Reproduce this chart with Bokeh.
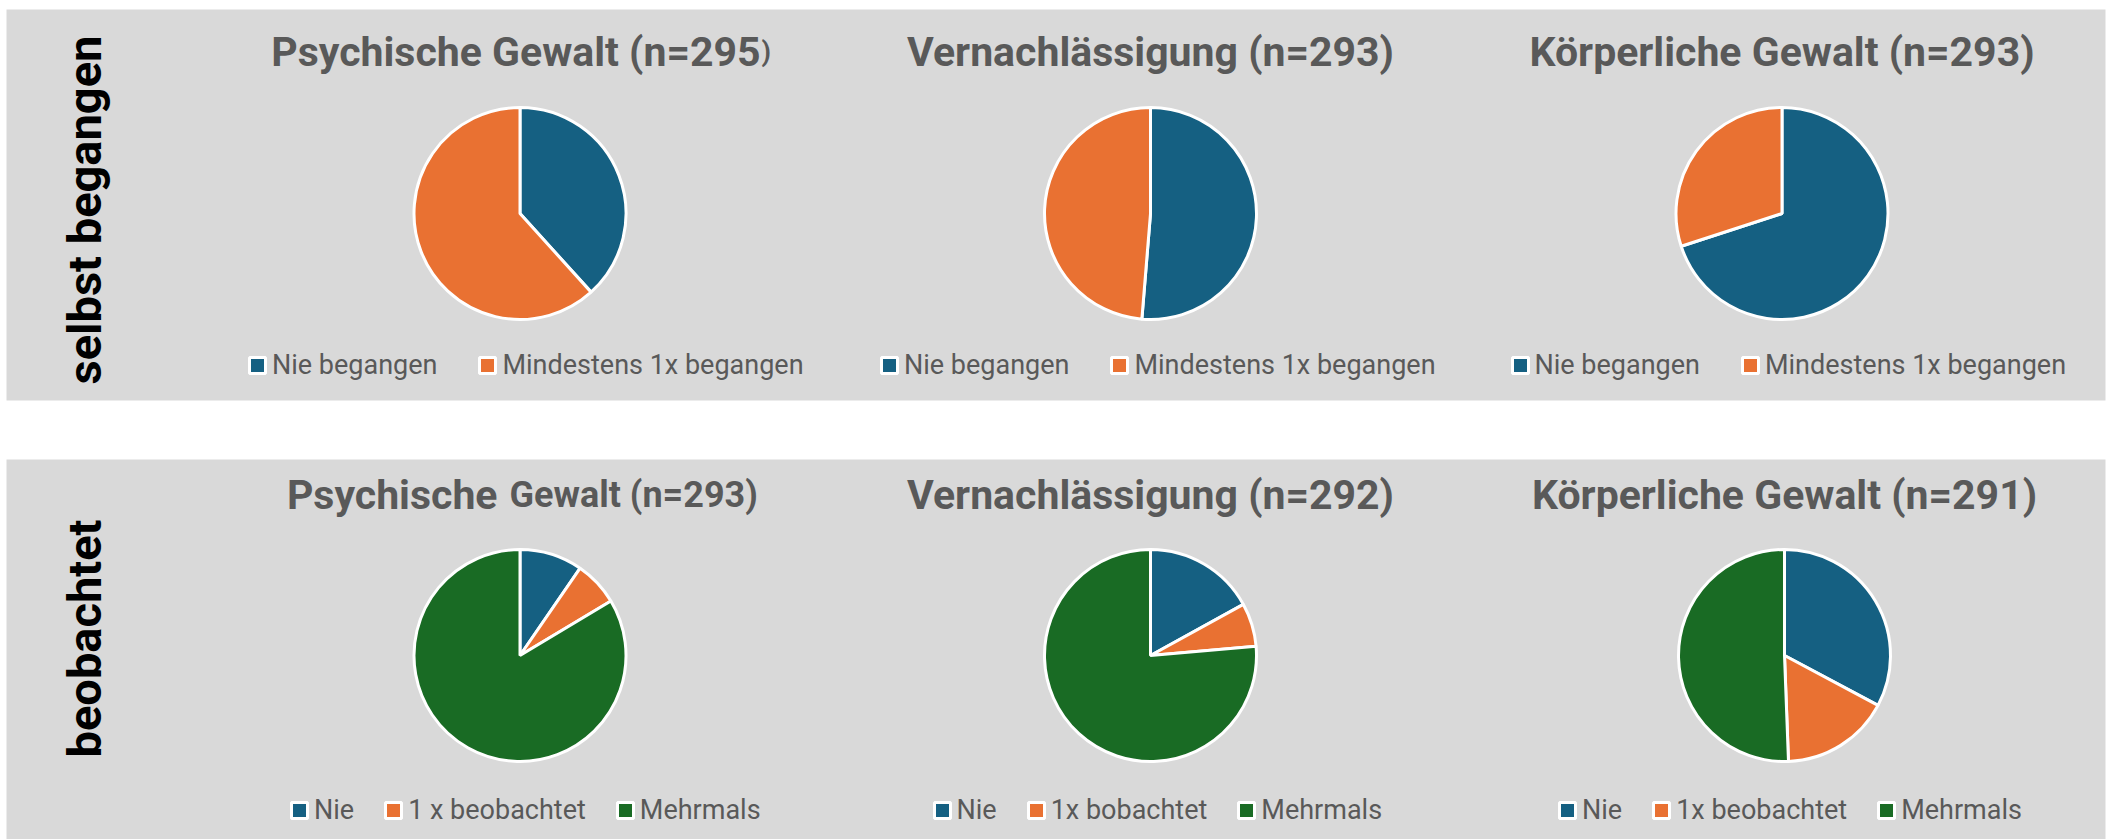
import numpy as np
from bokeh.plotting import figure
from bokeh.models import ColumnDataSource, Range1d, Legend, LegendItem
from bokeh.core.properties import value
from bokeh.embed import file_html
from bokeh.resources import INLINE

# ---------------- data ----------------
row_labels = ["selbst begangen", "beobachtet"]

top_titles = ["Psychische Gewalt (n=295)", "Vernachlässigung (n=293)", "Körperliche Gewalt (n=293)"]
bottom_titles = ["Psychische Gewalt (n=293)", "Vernachlässigung (n=292)", "Körperliche Gewalt (n=291)"]

committed_categories = ["Nie begangen", "Mindestens 1x begangen"]
psych_committed = [38.3, 61.7]
negl_committed = [51.3, 48.7]
phys_committed = [70.0, 30.0]

psych_obs_categories = ["Nie", "1 x beobachtet", "Mehrmals"]
negl_obs_categories = ["Nie", "1x bobachtet", "Mehrmals"]
phys_obs_categories = ["Nie", "1x beobachtet", "Mehrmals"]
psych_observed = [9.6, 6.8, 83.6]
negl_observed = [17.0, 6.6, 76.4]
phys_observed = [32.8, 16.6, 50.6]

colors = ["#156082", "#E97132", "#196B24"]

# ---------------- layout ----------------
W, H = 2112, 839
R = 106
GRAY = "#D9D9D9"
TITLE_COLOR = "#595959"

p = figure(width=W, height=H, x_range=Range1d(0, W), y_range=Range1d(0, H),
           output_backend="svg", toolbar_location=None, min_border=0,
           x_axis_location=None, y_axis_location=None)
p.grid.visible = False
p.outline_line_color = None
p.background_fill_color = "white"
p.border_fill_color = "white"

# gray panels
p.quad(left=[6, 6], right=[2105, 2105], top=[830, 380], bottom=[439, -10],
       fill_color=GRAY, line_color=None)

top_cx = [519.5, 1150, 1781.5]
bot_cx = [519.5, 1150, 1784]
top_cy, bot_cy = 626, 184


def add_pie(cx, cy, vals, cats, lx, ly, spacing):
    n = len(vals)
    frac = np.array(vals, dtype=float) / float(sum(vals))
    cum = np.concatenate([[0.0], np.cumsum(frac)])
    start = np.pi / 2 - 2 * np.pi * cum[:-1]
    end = np.pi / 2 - 2 * np.pi * cum[1:]
    src = ColumnDataSource(dict(x=[cx] * n, y=[cy] * n, start=start, end=end,
                                color=colors[:n], cat=cats))
    r = p.wedge(x="x", y="y", radius=R, start_angle="start", end_angle="end",
                direction="clock", fill_color="color", line_color="white",
                line_width=3, source=src)
    items = [LegendItem(label=value(c), renderers=[r], index=i) for i, c in enumerate(cats)]
    leg = Legend(items=items, location=(lx, ly), orientation="horizontal",
                 padding=0, margin=0, spacing=spacing,
                 glyph_width=20, glyph_height=20, label_standoff=5,
                 label_text_font="Roboto", label_text_font_size="27px",
                 label_text_color=TITLE_COLOR, background_fill_alpha=0,
                 border_line_color=None)
    p.add_layout(leg, "center")
    return r


add_pie(top_cx[0], top_cy, psych_committed, committed_categories, 247, 458, 40)
add_pie(top_cx[1], top_cy, negl_committed, committed_categories, 879, 458, 40)
add_pie(top_cx[2], top_cy, phys_committed, committed_categories, 1509.5, 458, 40)
add_pie(bot_cx[0], bot_cy, psych_observed, psych_obs_categories, 289, 13, 29)
add_pie(bot_cx[1], bot_cy, negl_observed, negl_obs_categories, 931.5, 13, 29)
add_pie(bot_cx[2], bot_cy, phys_observed, phys_obs_categories, 1557, 13, 29)

title_kw = dict(text_font=value("Roboto"), text_font_style="bold",
                text_color=TITLE_COLOR, text_baseline="alphabetic")
top_base, bot_base = 788, 344.5

# top-left title: last parenthesis smaller
p.text(x=[top_cx[0] + 240.5], y=[top_base], text=[top_titles[0][:-1]],
       text_align="right", text_font_size="41px", **title_kw)
p.text(x=[top_cx[0] + 241.5], y=[top_base], text=[top_titles[0][-1:]],
       text_align="left", text_font_size="27px", **title_kw)
# other top titles
p.text(x=top_cx[1:], y=[top_base] * 2, text=top_titles[1:],
       text_align="center", text_font_size="41px", **title_kw)

# bottom-left title: first word larger
first, rest = bottom_titles[0].split(" ", 1)
p.text(x=[bot_cx[0] - 22.5], y=[bot_base], text=[first],
       text_align="right", text_font_size="41px", **title_kw)
p.text(x=[bot_cx[0] - 10.5], y=[bot_base], text=[rest],
       text_align="left", text_font_size="36px", **title_kw)
p.text(x=bot_cx[1:], y=[bot_base] * 2, text=bottom_titles[1:],
       text_align="center", text_font_size="41px", **title_kw)

# rotated row labels
p.text(x=[84, 84], y=[629.5, 201], text=row_labels, angle=np.pi / 2,
       text_font=value("Roboto"), text_font_style="bold", text_font_size="47px",
       text_color="black", text_align="center", text_baseline="middle")

open("out.html", "w").write(file_html(p, INLINE, title="Gewalt"))
